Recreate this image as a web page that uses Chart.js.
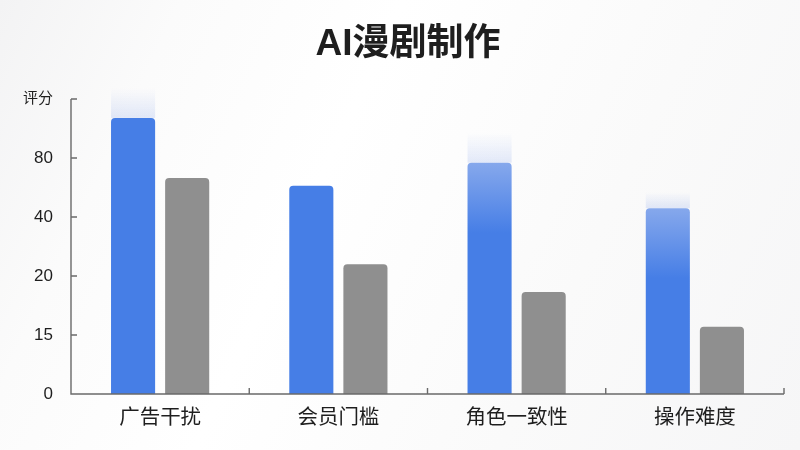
<!DOCTYPE html>
<html>
<head>
<meta charset="utf-8">
<script src="https://cdn.jsdelivr.net/npm/chart.js@4.4.0/dist/chart.umd.min.js"></script>
<style>
  html, body { margin: 0; padding: 0; }
  body { width: 800px; height: 450px; background: linear-gradient(115deg, #f3f3f4 0%, #fbfbfb 18%, #ffffff 40%, #fafafa 70%, #f6f6f7 100%); }
  #wrap { width: 800px; height: 450px; }
</style>
</head>
<body>
<div id="wrap"><canvas id="c" width="800" height="450"></canvas></div>
<script>
// ---- data (values are read in the chart's own tick-step units) ----
const categories = ['广告干扰', '会员门槛', '角色一致性', '操作难度'];
const yTickLabels = ['0', '15', '20', '40', '80'];
const yAxisTitle = '评分';
const blueValues = [4.68, 3.53, 3.92, 3.15];
const grayValues = [3.66, 2.20, 1.73, 1.14];
const chartTitle = 'AI漫剧制作';

// ---- style ----
const BLUE = '#467ee6';
const BLUE_LIGHT = '#86a8ec';
const GRAY = '#8f8f8f';
const blueTopFade = [false, false, true, true];
const blueGlow = [30, 0, 30, 16];
const FONT = '"Liberation Sans", "Noto Sans CJK SC", sans-serif';

function blueFill(ctx) {
  const chart = ctx.chart;
  const i = ctx.dataIndex;
  if (!blueTopFade[i] || !chart.scales || !chart.scales.y) return BLUE;
  const y = chart.scales.y;
  const top = y.getPixelForValue(blueValues[i]);
  const g = chart.ctx.createLinearGradient(0, top, 0, top + 70);
  g.addColorStop(0, BLUE_LIGHT);
  g.addColorStop(1, BLUE);
  return g;
}

const decor = {
  id: 'decor',
  beforeDatasetsDraw(chart) {
    const c = chart.ctx;
    const meta = chart.getDatasetMeta(0);
    meta.data.forEach((el, i) => {
      const h = blueGlow[i];
      if (!h) return;
      const top = el.y - h;
      const g = c.createLinearGradient(0, top, 0, el.y);
      g.addColorStop(0, 'rgba(90,130,230,0)');
      g.addColorStop(1, 'rgba(90,130,230,0.16)');
      c.save();
      c.fillStyle = g;
      c.fillRect(el.x - el.width / 2, top, el.width, h);
      c.restore();
    });
  },
  afterDatasetsDraw(chart) {
    const c = chart.ctx;
    const a = chart.chartArea;
    const xs = chart.scales.x, ys = chart.scales.y;
    c.save();
    c.strokeStyle = '#6a6a6a';
    c.lineWidth = 1.4;
    c.beginPath();
    const topY = ys.getPixelForValue(ys.max);
    c.moveTo(a.left, topY);
    c.lineTo(a.left, a.bottom);
    c.lineTo(a.right, a.bottom);
    ys.ticks.forEach(t => {
      if (t.value === 0) return;
      const py = ys.getPixelForValue(t.value);
      c.moveTo(a.left, py);
      c.lineTo(a.left + 6, py);
    });
    const n = categories.length;
    const w = (a.right - a.left) / n;
    for (let i = 1; i <= n; i++) {
      const px = xs.getPixelForValue(i - 1) + w / 2;
      c.moveTo(px, a.bottom);
      c.lineTo(px, a.bottom - 6);
    }
    c.stroke();
    c.restore();
  },
  afterDraw(chart) {
    const c = chart.ctx;
    c.save();
    c.fillStyle = '#1e1e1e';
    c.font = 'bold 37px ' + FONT;
    c.textAlign = 'center';
    c.textBaseline = 'middle';
    c.fillText(chartTitle, 408, 45);
    c.restore();
  }
};

new Chart(document.getElementById('c'), {
  type: 'bar',
  data: {
    labels: categories,
    datasets: [
      {
        data: blueValues,
        backgroundColor: blueFill,
        borderRadius: { topLeft: 4, topRight: 4, bottomLeft: 0, bottomRight: 0 },
        borderSkipped: false,
        barPercentage: 0.815,
        categoryPercentage: 0.607
      },
      {
        data: grayValues,
        backgroundColor: GRAY,
        borderRadius: { topLeft: 4, topRight: 4, bottomLeft: 0, bottomRight: 0 },
        borderSkipped: false,
        barPercentage: 0.815,
        categoryPercentage: 0.607
      }
    ]
  },
  options: {
    responsive: false,
    animation: false,
    devicePixelRatio: 1,
    layout: { padding: { left: 0, right: 16, top: 99, bottom: 0 } },
    plugins: {
      legend: { display: false },
      tooltip: { enabled: false },
      title: { display: false }
    },
    scales: {
      x: {
        grid: { display: false, drawTicks: false },
        border: { display: false },
        ticks: {
          color: '#1e1e1e',
          font: { family: FONT, size: 20.5 },
          padding: 12
        },
        afterFit(scale) { scale.height = 56; }
      },
      y: {
        min: 0,
        max: 5,
        grid: { display: false, drawTicks: false },
        border: { display: false },
        ticks: {
          stepSize: 1,
          color: '#1e1e1e',
          padding: 18,
          font(ctx) {
            return { family: FONT, size: ctx.tick && ctx.tick.value === 5 ? 15 : 17 };
          },
          callback(v) {
            return v < yTickLabels.length ? yTickLabels[v] : yAxisTitle;
          }
        },
        afterFit(scale) { scale.width = 71; }
      }
    }
  },
  plugins: [decor]
});
</script>
</body>
</html>
